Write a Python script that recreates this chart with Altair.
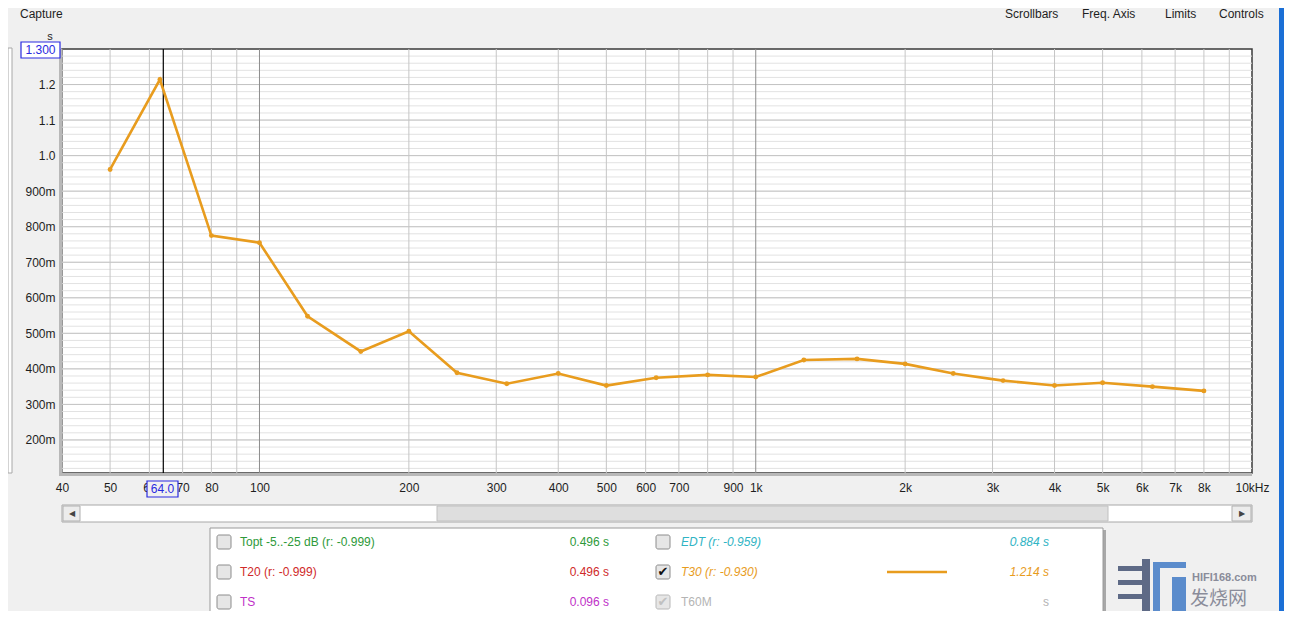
import altair as alt
import pandas as pd

# ---------------- data ----------------
freqs = [50, 63, 80, 100, 125, 160, 200, 250, 315, 400, 500, 630, 800, 1000,
         1250, 1600, 2000, 2500, 3150, 4000, 5000, 6300, 8000]
t30 = [0.961, 1.214, 0.775, 0.755, 0.548, 0.449, 0.506, 0.389, 0.358, 0.387,
       0.353, 0.375, 0.383, 0.377, 0.425, 0.428, 0.414, 0.387, 0.367, 0.353,
       0.361, 0.350, 0.338]

x_labels = [40, 50, 60, 70, 80, 100, 200, 300, 400, 500, 600, 700, 900,
            1000, 2000, 3000, 4000, 5000, 6000, 7000, 8000, 10000]
x_grid_minor = [40, 50, 60, 70, 80, 90, 200, 300, 400, 500, 600, 700, 800, 900,
                2000, 3000, 4000, 5000, 6000, 7000, 8000, 9000]
x_grid_major = [100, 1000]
y_labels = [0.2, 0.3, 0.4, 0.5, 0.6, 0.7, 0.8, 0.9, 1.0, 1.1, 1.2]
y_grid_minor = [round(0.12 + 0.02 * i, 2) for i in range(59)]
cursor_freq = [64.0]

W, H = 1190, 424
xscale = alt.Scale(type="log", domain=[40, 10000], nice=False)
yscale = alt.Scale(domain=[0.107, 1.3], nice=False, zero=False)

xlabel_expr = ("datum.value >= 10000 ? '10kHz' : datum.value >= 1000 ? "
               "format(datum.value / 1000, 'd') + 'k' : format(datum.value, 'd')")
ylabel_expr = ("datum.value >= 0.999 ? format(datum.value, '.1f') : "
               "format(datum.value * 1000, '.0f') + 'm'")
xaxis = alt.Axis(values=x_labels, labelExpr=xlabel_expr, title=None,
                 labelPadding=9, labelOverlap=False, labelFlush=False)
yaxis = alt.Axis(values=y_labels, labelExpr=ylabel_expr, title=None,
                 labelPadding=7, labelOverlap=False, labelFlush=False)

df = pd.DataFrame({"f": freqs, "t": t30})
one = pd.DataFrame({"k": [0]})

ORANGE = "#e89c1e"
FONT = "Liberation Sans"

# ---------------- grid ----------------
hminor = alt.Chart(pd.DataFrame({"v": y_grid_minor})).mark_rule(
    color="#e2e2e2", strokeWidth=1).encode(y=alt.Y("v:Q", scale=yscale, axis=yaxis))
hmajor = alt.Chart(pd.DataFrame({"v": y_labels})).mark_rule(
    color="#c4c4c4", strokeWidth=1).encode(y=alt.Y("v:Q", scale=yscale, axis=yaxis))
vminor = alt.Chart(pd.DataFrame({"v": x_grid_minor})).mark_rule(
    color="#c6c6c6", strokeWidth=1).encode(x=alt.X("v:Q", scale=xscale, axis=xaxis))
vmajor = alt.Chart(pd.DataFrame({"v": x_grid_major})).mark_rule(
    color="#8c8c8c", strokeWidth=1).encode(x=alt.X("v:Q", scale=xscale, axis=xaxis))
cursor = alt.Chart(pd.DataFrame({"v": cursor_freq})).mark_rule(
    color="#000000", strokeWidth=1.2).encode(x=alt.X("v:Q", scale=xscale, axis=xaxis))

# ---------------- data line ----------------
line = alt.Chart(df).mark_line(color=ORANGE, strokeWidth=2.6).encode(
    x=alt.X("f:Q", scale=xscale, axis=xaxis),
    y=alt.Y("t:Q", scale=yscale, axis=yaxis),
)
pts = alt.Chart(df).mark_circle(color=ORANGE, size=24, opacity=1).encode(
    x=alt.X("f:Q", scale=xscale, axis=xaxis), y=alt.Y("t:Q", scale=yscale, axis=yaxis))


# ---------------- decorations (UI chrome) ----------------
def rect(x, x2, y, y2, fill, stroke=None, sw=1, r=0):
    kw = dict(fill=fill, cornerRadius=r)
    if stroke:
        kw.update(stroke=stroke, strokeWidth=sw)
    return alt.Chart(one).mark_rect(**kw).encode(
        x=alt.value(x), x2=alt.value(x2), y=alt.value(y), y2=alt.value(y2))


def txt(x, y, s, color="#1e1e1e", size=12, align="left", style="normal",
        weight="normal", font=FONT):
    return alt.Chart(one).mark_text(
        align=align, baseline="middle", color=color, fontSize=size,
        fontStyle=style, fontWeight=weight, font=font).encode(
        x=alt.value(x), y=alt.value(y), text=alt.value(s))


def hline(x, x2, y, color, sw):
    return alt.Chart(one).mark_rule(color=color, strokeWidth=sw).encode(
        x=alt.value(x), x2=alt.value(x2), y=alt.value(y))


deco = []
# plot frame shadow
deco.append(rect(-3, 0, 0, H + 2, "#b8b8b8"))
deco.append(rect(-3, W, H, H + 3, "#b8b8b8"))
# top labels
deco.append(txt(-42, -35, "Capture"))
deco.append(txt(-12, -12, "s", size=11, align="center"))
deco += [txt(943, -35, "Scrollbars"), txt(1020, -35, "Freq. Axis"),
         txt(1103, -35, "Limits"), txt(1157, -35, "Controls")]
# y cursor box 1.300
deco.append(rect(-41, -2, -7, 9, "#ffffff", "#2a2ae0", 1.2))
deco.append(txt(-21.5, 1, "1.300", color="#2a2ae0", align="center"))
# x cursor box 64.0
deco.append(rect(85, 116, 432, 448, "#f0f0f0", "#2a2ae0", 1.2))
deco.append(txt(100.5, 440, "64.0", color="#2a2ae0", align="center"))
# left vertical scrollbar strip
deco.append(rect(-54, -50, -1, 424, "#ffffff", "#a8a8a8"))
# horizontal scrollbar
deco.append(rect(0, W, 456, 473, "#ffffff", "#a8a8a8"))
deco.append(rect(375, 1046, 457, 472, "#dedede", "#c0c0c0"))
deco.append(rect(1, 18, 457, 472, "#ececec", "#b0b0b0"))
deco.append(rect(1170, 1189, 457, 472, "#ececec", "#b0b0b0"))
deco.append(txt(9.5, 465, "◀", color="#444444", size=8, align="center"))
deco.append(txt(1179.5, 465, "▶", color="#444444", size=8, align="center"))
# legend panel
deco.append(rect(150, 1044, 481, 575, "#a8a8a8"))
deco.append(rect(148, 1041, 479, 573, "#ffffff", "#9a9a9a"))
rows = [493, 523, 553]
for ry in rows:
    deco.append(rect(155, 169, ry - 7, ry + 7, "#e6e6e6", "#8c8c8c", 1, 2))
for ry in rows:
    deco.append(rect(594, 608, ry - 7, ry + 7, "#e6e6e6",
                     "#b8b8b8" if ry == rows[2] else "#8c8c8c", 1, 2))
deco.append(txt(601, 523, "✔", color="#111111", size=13, align="center",
                font="DejaVu Sans"))
deco.append(txt(601, 553, "✔", color="#c0c0c0", size=13, align="center",
                font="DejaVu Sans"))
deco.append(txt(178, 493, "Topt -5..-25 dB (r: -0.999)", color="#2e9a3a"))
deco.append(txt(547, 493, "0.496 s", color="#2e9a3a", align="right"))
deco.append(txt(178, 523, "T20 (r: -0.999)", color="#d02a2a"))
deco.append(txt(547, 523, "0.496 s", color="#d02a2a", align="right"))
deco.append(txt(178, 553, "TS", color="#c030c8"))
deco.append(txt(547, 553, "0.096 s", color="#c030c8", align="right"))
deco.append(txt(619, 493, "EDT (r: -0.959)", color="#30b4c4", style="italic"))
deco.append(txt(987, 493, "0.884 s", color="#30b4c4", align="right", style="italic"))
deco.append(txt(619, 523, "T30 (r: -0.930)", color=ORANGE, style="italic"))
deco.append(hline(825, 885, 523, ORANGE, 2.4))
deco.append(txt(987, 523, "1.214 s", color=ORANGE, align="right", style="italic"))
deco.append(txt(619, 553, "T60M", color="#b4b4b4"))
deco.append(txt(987, 553, "s", color="#b4b4b4", align="right"))
# watermark
deco.append(rect(1056, 1080, 517, 522, "#5e6a86"))
deco.append(rect(1056, 1080, 531, 536, "#5e6a86"))
deco.append(rect(1056, 1080, 545, 550, "#5e6a86"))
deco.append(rect(1080, 1088, 510, 569, "#5e6a86"))
deco.append(rect(1091, 1124, 513, 519, "#5b8ccc"))
deco.append(rect(1091, 1098, 513, 569, "#5b8ccc"))
deco.append(rect(1110, 1124, 528, 569, "#5b8ccc"))
deco.append(txt(1130, 529, "HIFI168.com", color="#8a8c9a", size=11, weight="bold"))
deco.append(txt(1128, 550, "发烧网", color="#8a8c9a", size=19,
                font="Noto Sans CJK SC"))
# desktop strip at right
deco.append(rect(1217, 1222, -41, 562, "#1b6fd6"))

chart = alt.layer(hminor, hmajor, vminor, vmajor, cursor, line, pts, *deco).properties(
    width=W, height=H,
    background="#f0f0f0",
    padding={"left": 54, "top": 41, "right": 32, "bottom": 138},
    autosize=alt.AutoSizeParams(type="none"),
).configure_view(
    fill="#ffffff", stroke="#3a3a3a", strokeWidth=1.5
).configure_axis(
    labelFont=FONT, labelFontSize=12, labelColor="#1e1e1e",
    ticks=False, domain=False, grid=False
)

chart.save("out.html", embed_options={"renderer": "svg", "actions": False})
